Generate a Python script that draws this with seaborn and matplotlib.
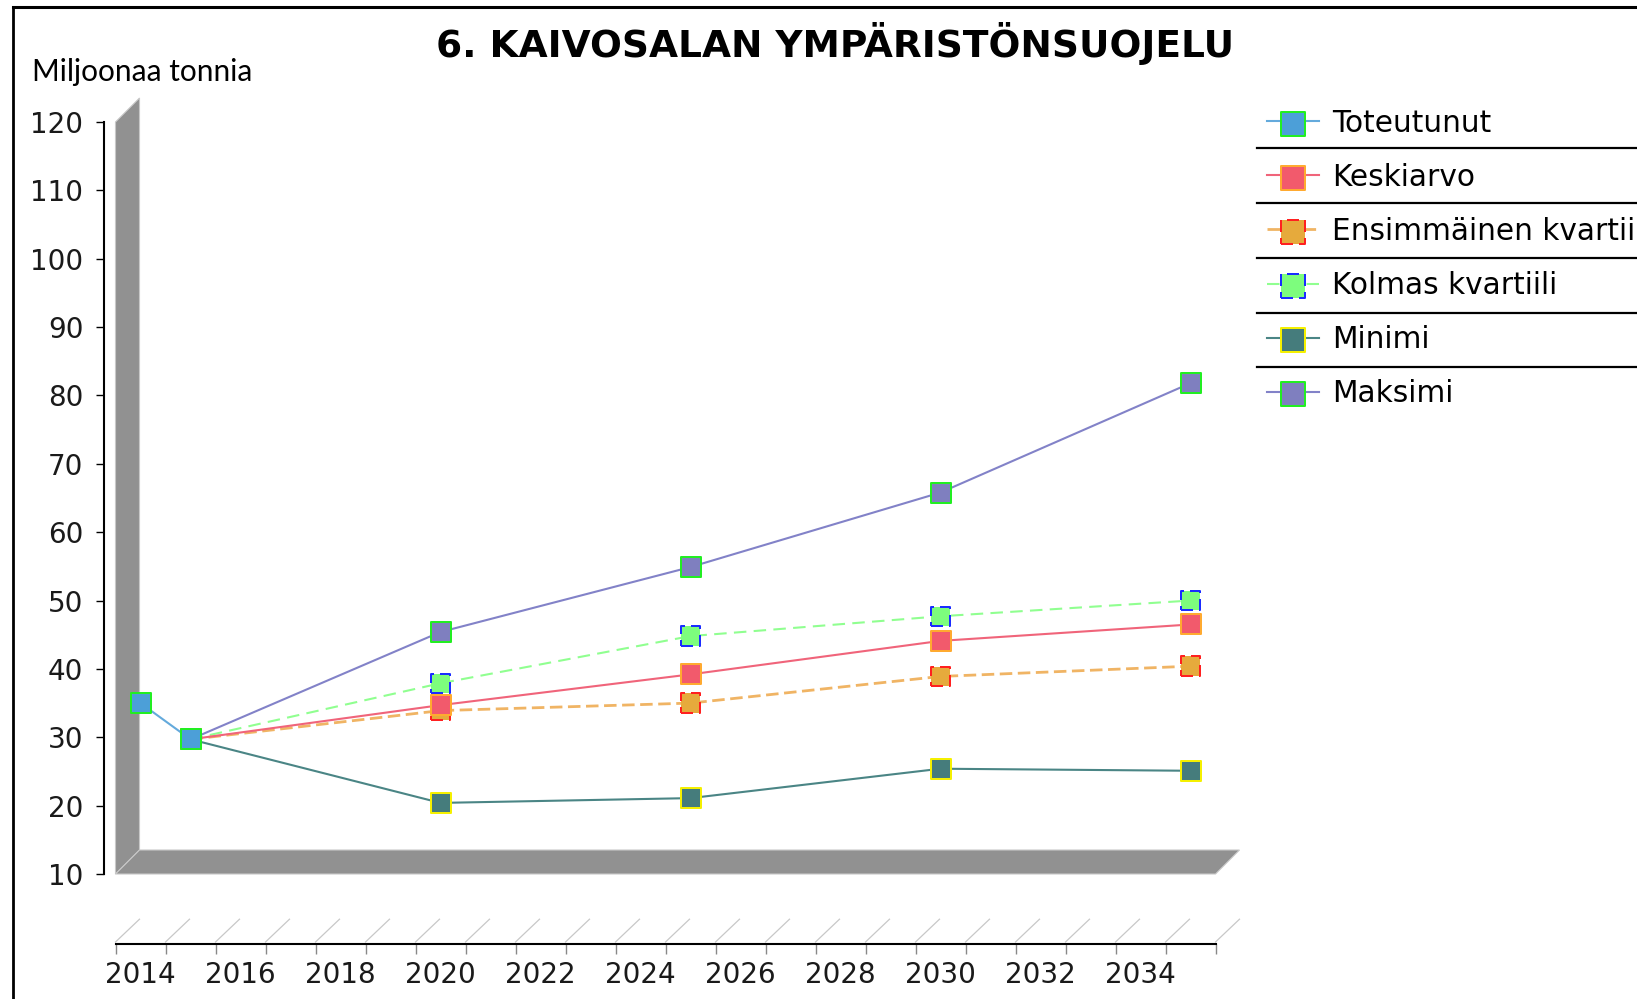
import matplotlib
matplotlib.use("Agg")
import matplotlib.pyplot as plt
import matplotlib.lines as mlines
import matplotlib.patches as mpatches
from matplotlib.legend_handler import HandlerTuple
import seaborn as sns

# data
years_hist = [2014, 2015]
toteutunut = [35.0, 29.7]

years_proj = [2015, 2020, 2025, 2030, 2035]
keskiarvo = [29.7, 34.7, 39.2, 44.1, 46.5]
ens_kvartiili = [29.7, 33.9, 35.0, 38.9, 40.4]
kolmas_kvartiili = [29.7, 37.9, 44.8, 47.7, 50.0]
minimi = [29.7, 20.4, 21.1, 25.4, 25.1]
maksimi = [29.7, 45.4, 54.9, 65.8, 81.8]

x_ticks = list(range(2014, 2035, 2))
y_ticks = list(range(10, 121, 10))

title = "6. KAIVOSALAN YMPÄRISTÖNSUOJELU"
y_title = "Miljoonaa tonnia"

W, H = 1637, 999
DPI = 100
PT = 72 / DPI  # points per pixel

edge_dash = (0, (6, 3))
series = [
    ("Toteutunut", years_hist, toteutunut, "#64aadc", "-", 1.5, "#4c9fd8", "#22ee22", "-"),
    ("Keskiarvo", years_proj, keskiarvo, "#f0647a", "-", 1.5, "#f25a6c", "#ffaa30", "-"),
    ("Ensimmäinen kvartiili", years_proj, ens_kvartiili, "#f0b464", (0, (4.5, 2)), 2.0, "#e6aa3c", "#ff2020", edge_dash),
    ("Kolmas kvartiili", years_proj, kolmas_kvartiili, "#90ff90", (0, (6, 3.5)), 1.5, "#7dfd7d", "#1a2cff", edge_dash),
    ("Minimi", years_proj, minimi, "#4a8585", "-", 1.5, "#457c7c", "#f5f000", "-"),
    ("Maksimi", years_proj, maksimi, "#8282c8", "-", 1.5, "#7f7fbf", "#22ee22", "-"),
]

fig = plt.figure(figsize=(W / DPI, H / DPI), dpi=DPI)
plt.rcParams['font.family'] = ['DejaVu Sans']

# back-plane data area
ax = fig.add_axes([115.5 / W, 1 - 874 / H, 1125 / W, 752 / H])
x0, x1 = 2013.5, 2036
y0, y1 = 10, 120
ax.set_xlim(x0, x1)
ax.set_ylim(y0, y1)
ax.patch.set_visible(False)

px_x = 1125 / (x1 - x0)
px_y = 752 / (y1 - y0)
DEPTH = 24
dx, dy = DEPTH / px_x, DEPTH / px_y
x_front_end = 2035.5

# 3d wall and floor
wall_kw = dict(facecolor="#919191", edgecolor="#c8c8c8", linewidth=0.8, clip_on=False, zorder=0)
ax.add_patch(mpatches.Polygon([(x0, y0), (x0, y1), (x0 + dx, y1 + dy), (x0 + dx, y0 + dy)], **wall_kw))
ax.add_patch(mpatches.Polygon([(x0, y0), (x_front_end, y0), (x_front_end + dx, y0 + dy), (x0 + dx, y0 + dy)], **wall_kw))

# lines first (reverse order), then markers
handles = {}
for name, xs, ys, lc, ls, lw, fc, ec, els in reversed(series):
    sns.lineplot(x=xs, y=ys, ax=ax, color=lc, linestyle=ls, linewidth=lw, zorder=2, clip_on=False)
    handles[name] = [ax.lines[-1]]
for name, xs, ys, lc, ls, lw, fc, ec, els in reversed(series):
    sns.scatterplot(x=xs, y=ys, ax=ax, marker="s", s=(19.5 * PT) ** 2, color=fc,
                    edgecolor=ec, linewidth=2 * PT, linestyle=els, zorder=3, clip_on=False)
    handles[name].append(ax.collections[-1])

# axes styling
for s in ["top", "right"]:
    ax.spines[s].set_visible(False)
ax.spines["left"].set_position(("outward", 11.5 * PT))
ax.spines["left"].set_linewidth(1.5)
ax.spines["bottom"].set_position(("outward", 70 * PT))
ax.spines["bottom"].set_bounds(x0, x_front_end)
ax.spines["bottom"].set_linewidth(1.5)

ax.set_yticks(y_ticks)
ax.set_yticklabels([str(v) for v in y_ticks])
ax.tick_params(axis="y", length=8 * PT, width=1, pad=9, labelsize=20, labelcolor="#1a1a1a")

ax.set_xticks(x_ticks)
ax.set_xticklabels([str(v) for v in x_ticks])
ax.set_xticks([x0 + i for i in range(23)], minor=True)
ax.tick_params(axis="x", which="major", length=0, pad=12, labelsize=20, labelcolor="#1a1a1a")
ax.tick_params(axis="x", which="minor", length=10 * PT, width=1, color="#888888")
ax.set_xlabel("")
ax.set_ylabel("")

# slanted marks above the x axis
y_axis = y0 - 70 / px_y + 2 / px_y
for i in range(23):
    xt = x0 + i
    ax.plot([xt, xt + dx], [y_axis, y_axis + dy * 0.95], color="#c8c8c8", linewidth=0.9,
            clip_on=False, zorder=1)

# texts
fig.text(835 / W, 1 - 57 / H, title, ha="center", va="baseline", fontsize=27, fontweight="bold")
fig.text(32 / W, 1 - 81 / H, y_title, ha="left", va="baseline", fontsize=21.5, family=["Lato", "DejaVu Sans"])

# outer frame (top and left edges)
fig.add_artist(mlines.Line2D([13 / W, 1], [1 - 6.5 / H, 1 - 6.5 / H], color="black", linewidth=2.2))
fig.add_artist(mlines.Line2D([13 / W, 13 / W], [0, 1 - 6.5 / H], color="black", linewidth=2))

# legend
names = [s[0] for s in series]
fig.legend([tuple(handles[n]) for n in names], names, loc="upper left",
           bbox_to_anchor=(1267 / W, 1 - 108.5 / H), frameon=False, fontsize=21.3,
           handlelength=1.75, handletextpad=0.45, labelspacing=0.85, borderpad=0,
           borderaxespad=0, markerscale=1.22, handler_map={tuple: HandlerTuple(ndivide=1)})
for yy in [148, 203, 258, 313, 367]:
    fig.add_artist(mlines.Line2D([1257 / W, 1], [1 - yy / H, 1 - yy / H], color="black", linewidth=1.6))

plt.savefig("out.png", dpi=DPI)
